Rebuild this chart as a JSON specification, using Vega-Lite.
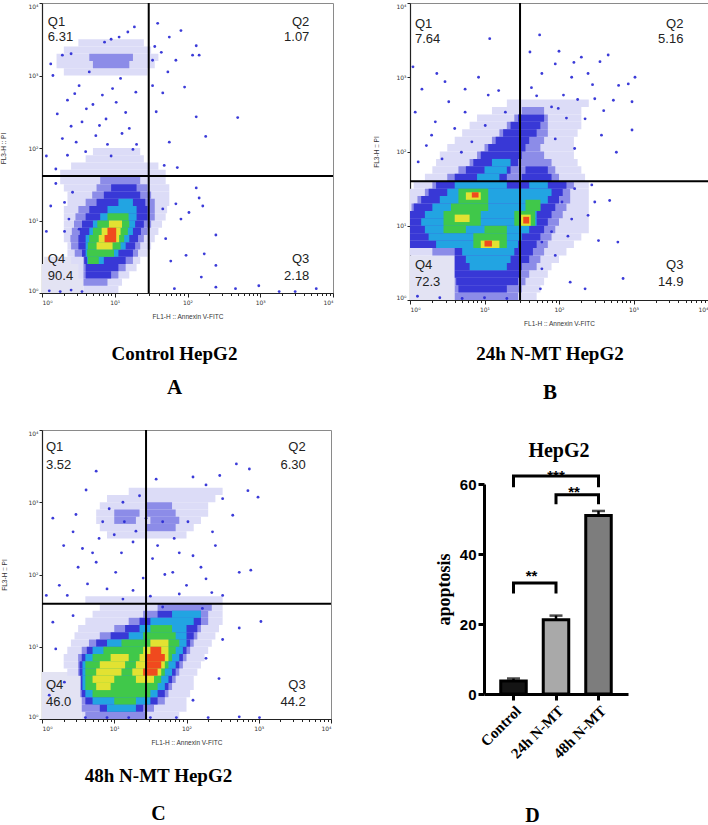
{
  "$schema": "https://vega.github.io/schema/vega-lite/v6.json",
  "background": "white",
  "padding": {"left": 0, "top": 1, "right": 0, "bottom": 0},
  "spacing": 25,
  "resolve": {"scale": {"color": "independent"}},
  "datasets": {
    "cellsA": [
      {"x":0,"x2":0.57,"y":0,"y2":0.4,"d":0},
      {"x":0.03,"x2":0.5,"y":0.4,"y2":0.5,"d":0},
      {"x":0.57,"x2":1.05,"y":0,"y2":0.1,"d":1},
      {"x":0.57,"x2":1.1,"y":0.1,"y2":0.2,"d":1},
      {"x":0.5,"x2":1.2,"y":0.2,"y2":0.3,"d":1},
      {"x":0.5,"x2":1.3,"y":0.3,"y2":0.4,"d":1},
      {"x":0.4,"x2":1.35,"y":0.4,"y2":0.5,"d":1},
      {"x":0.35,"x2":1.45,"y":0.5,"y2":0.6,"d":1},
      {"x":0.35,"x2":1.5,"y":0.6,"y2":0.7,"d":1},
      {"x":0.3,"x2":1.55,"y":0.7,"y2":0.8,"d":1},
      {"x":0.3,"x2":1.6,"y":0.8,"y2":0.9,"d":1},
      {"x":0.3,"x2":1.65,"y":0.9,"y2":1.0,"d":1},
      {"x":0.3,"x2":1.7,"y":1.0,"y2":1.1,"d":1},
      {"x":0.3,"x2":1.72,"y":1.1,"y2":1.2,"d":1},
      {"x":0.35,"x2":1.75,"y":1.2,"y2":1.4,"d":1},
      {"x":0.3,"x2":1.75,"y":1.4,"y2":1.5,"d":1},
      {"x":0.25,"x2":1.7,"y":1.5,"y2":1.7,"d":1},
      {"x":0.4,"x2":1.6,"y":1.7,"y2":1.8,"d":1},
      {"x":0.6,"x2":1.4,"y":1.8,"y2":1.9,"d":1},
      {"x":0.7,"x2":1.35,"y":1.9,"y2":2.0,"d":1},
      {"x":0.3,"x2":1.45,"y":3.0,"y2":3.1,"d":1},
      {"x":0.2,"x2":1.55,"y":3.1,"y2":3.2,"d":1},
      {"x":0.2,"x2":1.6,"y":3.2,"y2":3.3,"d":1},
      {"x":0.3,"x2":1.5,"y":3.3,"y2":3.4,"d":1},
      {"x":0.5,"x2":1.4,"y":3.4,"y2":3.5,"d":1},
      {"x":0.57,"x2":0.9,"y":0.1,"y2":0.2,"d":2},
      {"x":0.57,"x2":1.05,"y":0.2,"y2":0.3,"d":2},
      {"x":0.57,"x2":1.15,"y":0.3,"y2":0.4,"d":2},
      {"x":0.57,"x2":1.25,"y":0.4,"y2":0.5,"d":2},
      {"x":0.45,"x2":1.32,"y":0.5,"y2":0.6,"d":2},
      {"x":0.4,"x2":1.35,"y":0.6,"y2":0.7,"d":2},
      {"x":0.39,"x2":1.4,"y":0.7,"y2":0.8,"d":2},
      {"x":0.41,"x2":1.45,"y":0.8,"y2":0.9,"d":2},
      {"x":0.44,"x2":1.5,"y":0.9,"y2":1.0,"d":2},
      {"x":0.46,"x2":1.55,"y":1.0,"y2":1.1,"d":2},
      {"x":0.5,"x2":1.55,"y":1.1,"y2":1.2,"d":2},
      {"x":0.6,"x2":1.55,"y":1.2,"y2":1.3,"d":2},
      {"x":0.69,"x2":1.5,"y":1.3,"y2":1.4,"d":2},
      {"x":0.75,"x2":1.45,"y":1.4,"y2":1.5,"d":2},
      {"x":0.8,"x2":1.35,"y":1.5,"y2":1.6,"d":2},
      {"x":0.7,"x2":1.2,"y":3.1,"y2":3.2,"d":2},
      {"x":0.65,"x2":1.25,"y":3.2,"y2":3.3,"d":2},
      {"x":0.6,"x2":0.95,"y":0.2,"y2":0.3,"d":3},
      {"x":0.6,"x2":1.05,"y":0.3,"y2":0.4,"d":3},
      {"x":0.58,"x2":1.15,"y":0.4,"y2":0.5,"d":3},
      {"x":0.55,"x2":1.25,"y":0.5,"y2":0.6,"d":3},
      {"x":0.5,"x2":1.28,"y":0.6,"y2":0.7,"d":3},
      {"x":0.5,"x2":1.32,"y":0.7,"y2":0.8,"d":3},
      {"x":0.52,"x2":1.36,"y":0.8,"y2":0.9,"d":3},
      {"x":0.55,"x2":1.4,"y":0.9,"y2":1.0,"d":3},
      {"x":0.6,"x2":1.45,"y":1.0,"y2":1.1,"d":3},
      {"x":0.65,"x2":1.45,"y":1.1,"y2":1.2,"d":3},
      {"x":0.75,"x2":1.42,"y":1.2,"y2":1.3,"d":3},
      {"x":0.85,"x2":1.35,"y":1.3,"y2":1.4,"d":3},
      {"x":0.95,"x2":1.3,"y":1.4,"y2":1.5,"d":3},
      {"x":0.62,"x2":0.85,"y":0.4,"y2":0.5,"d":4},
      {"x":0.6,"x2":1.05,"y":0.5,"y2":0.6,"d":4},
      {"x":0.6,"x2":1.15,"y":0.6,"y2":0.7,"d":4},
      {"x":0.6,"x2":1.2,"y":0.7,"y2":0.8,"d":4},
      {"x":0.65,"x2":1.25,"y":0.8,"y2":0.9,"d":4},
      {"x":0.7,"x2":1.28,"y":0.9,"y2":1.0,"d":4},
      {"x":0.8,"x2":1.3,"y":1.0,"y2":1.1,"d":4},
      {"x":0.9,"x2":1.3,"y":1.1,"y2":1.2,"d":4},
      {"x":1.05,"x2":1.25,"y":1.2,"y2":1.3,"d":4},
      {"x":0.63,"x2":0.78,"y":0.4,"y2":0.5,"d":5},
      {"x":0.62,"x2":0.99,"y":0.5,"y2":0.6,"d":5},
      {"x":0.63,"x2":1.08,"y":0.6,"y2":0.7,"d":5},
      {"x":0.65,"x2":1.13,"y":0.7,"y2":0.8,"d":5},
      {"x":0.7,"x2":1.18,"y":0.8,"y2":0.9,"d":5},
      {"x":0.76,"x2":1.2,"y":0.9,"y2":1.0,"d":5},
      {"x":0.9,"x2":1.19,"y":1.0,"y2":1.1,"d":5},
      {"x":0.75,"x2":0.97,"y":0.6,"y2":0.7,"d":6},
      {"x":0.78,"x2":1.06,"y":0.7,"y2":0.8,"d":6},
      {"x":0.82,"x2":1.08,"y":0.8,"y2":0.9,"d":6},
      {"x":0.92,"x2":1.1,"y":0.9,"y2":1.0,"d":6},
      {"x":0.86,"x2":1.02,"y":0.7,"y2":0.8,"d":7},
      {"x":0.9,"x2":1.02,"y":0.8,"y2":0.9,"d":7}
    ],
    "dotsA": [
      {"x":0.12,"y":3.16},{"x":0.28,"y":3.28},{"x":0.21,"y":2.47},{"x":0.51,"y":2.86},{"x":0.35,"y":2.66},
      {"x":0.47,"y":2.08},{"x":0.74,"y":2.17},{"x":0.88,"y":2.4},{"x":1.02,"y":2.63},{"x":1.15,"y":2.49},
      {"x":1.29,"y":2.77},{"x":0.65,"y":3.05},{"x":0.97,"y":2.82},{"x":1.2,"y":2.27},{"x":0.61,"y":2.54},
      {"x":0.83,"y":2.73},{"x":0.95,"y":1.89},{"x":0.06,"y":1.89},{"x":0.19,"y":1.71},{"x":0.35,"y":1.9},
      {"x":0.28,"y":2.13},{"x":1.08,"y":2.96},{"x":0.79,"y":2.31},{"x":0.55,"y":2.36},
      {"x":1.27,"y":3.67},{"x":1.18,"y":3.6},{"x":1.06,"y":3.53},{"x":0.86,"y":3.46},
      {"x":1.59,"y":3.72},{"x":1.75,"y":3.53},{"x":1.91,"y":3.62},{"x":1.64,"y":3.32},{"x":1.84,"y":3.21},
      {"x":2.12,"y":3.41},{"x":2.16,"y":3.28},{"x":1.73,"y":3.05},{"x":1.52,"y":3.21},{"x":1.96,"y":2.84},
      {"x":2.12,"y":2.43},{"x":2.69,"y":2.42},{"x":2.25,"y":2.16},{"x":1.57,"y":2.5},{"x":1.75,"y":2.08},
      {"x":1.68,"y":1.76},{"x":1.86,"y":1.73},{"x":1.52,"y":2.86},{"x":1.66,"y":2.76},{"x":2.07,"y":3.28},
      {"x":1.55,"y":3.4},
      {"x":2.12,"y":1.45},{"x":2.16,"y":1.31},{"x":2.21,"y":1.2},{"x":1.84,"y":1.23},{"x":2.39,"y":0.8},
      {"x":2.23,"y":0.54},{"x":2.39,"y":0.38},{"x":2.19,"y":0.22},{"x":2.39,"y":0.08},{"x":2.66,"y":0.06},
      {"x":1.82,"y":0.06},{"x":2.98,"y":0.1},{"x":3.26,"y":0.02},{"x":3.48,"y":0.02},{"x":3.77,"y":0.06},
      {"x":1.98,"y":0.52},{"x":1.77,"y":0.44},{"x":1.7,"y":0.75},{"x":1.91,"y":1.02},{"x":1.66,"y":1.16},
      {"x":2.02,"y":1.11},
      {"x":0.06,"y":0.85},{"x":0.12,"y":1.2},{"x":0.31,"y":1.25},{"x":0.42,"y":1.39},{"x":0.19,"y":1.51},
      {"x":0.37,"y":1.02},{"x":0.51,"y":0.88},{"x":0.31,"y":0.85},
      {"x":0.4,"y":2.3},{"x":0.7,"y":2.6},{"x":1.1,"y":2.2},{"x":0.9,"y":2.05},{"x":1.3,"y":2.05},
      {"x":0.6,"y":1.95},{"x":1.25,"y":1.98},{"x":0.45,"y":2.75},{"x":0.95,"y":3.5},{"x":0.4,"y":3.3},
      {"x":0.15,"y":3.0},{"x":0.1,"y":0.03},{"x":0.25,"y":0.02},{"x":0.4,"y":0.04},{"x":0.55,"y":0.02}
    ],
    "qA": [
      {"q":"Q1","t":"Q1","x":0.08,"y":3.74},{"q":"Q1","t":"6.31","x":0.08,"y":3.53},
      {"q":"Q2","t":"Q2","x":3.675,"y":3.74},{"q":"Q2","t":"1.07","x":3.675,"y":3.53},
      {"q":"Q4","t":"Q4","x":0.08,"y":0.47},{"q":"Q4","t":"90.4","x":0.08,"y":0.24},
      {"q":"Q3","t":"Q3","x":3.675,"y":0.47},{"q":"Q3","t":"2.18","x":3.675,"y":0.24}
    ],
    "cellsB": [
      {"x":0,"x2":0.6,"y":0,"y2":0.6,"d":0},
      {"x":0.6,"x2":1.7,"y":0,"y2":0.1,"d":1},
      {"x":0.6,"x2":1.75,"y":0.1,"y2":0.2,"d":1},
      {"x":0.6,"x2":1.8,"y":0.2,"y2":0.3,"d":1},
      {"x":0.6,"x2":1.85,"y":0.3,"y2":0.4,"d":1},
      {"x":0.6,"x2":1.9,"y":0.4,"y2":0.5,"d":1},
      {"x":0.6,"x2":2.0,"y":0.5,"y2":0.6,"d":1},
      {"x":0,"x2":2.1,"y":0.6,"y2":0.7,"d":1},
      {"x":0,"x2":2.2,"y":0.7,"y2":0.8,"d":1},
      {"x":0,"x2":2.3,"y":0.8,"y2":0.9,"d":1},
      {"x":0,"x2":2.4,"y":0.9,"y2":1.5,"d":1},
      {"x":0.05,"x2":2.4,"y":1.5,"y2":1.6,"d":1},
      {"x":0.2,"x2":2.35,"y":1.6,"y2":1.7,"d":1},
      {"x":0.3,"x2":2.3,"y":1.7,"y2":1.8,"d":1},
      {"x":0.35,"x2":2.25,"y":1.8,"y2":1.9,"d":1},
      {"x":0.4,"x2":2.2,"y":1.9,"y2":2.0,"d":1},
      {"x":0.5,"x2":2.2,"y":2.0,"y2":2.1,"d":1},
      {"x":0.6,"x2":2.2,"y":2.1,"y2":2.2,"d":1},
      {"x":0.7,"x2":2.25,"y":2.2,"y2":2.3,"d":1},
      {"x":0.8,"x2":2.3,"y":2.3,"y2":2.4,"d":1},
      {"x":0.9,"x2":2.3,"y":2.4,"y2":2.5,"d":1},
      {"x":1.1,"x2":2.3,"y":2.5,"y2":2.6,"d":1},
      {"x":1.3,"x2":2.4,"y":2.6,"y2":2.7,"d":1},
      {"x":0.6,"x2":1.45,"y":0,"y2":0.1,"d":2},
      {"x":0.6,"x2":1.5,"y":0.1,"y2":0.2,"d":2},
      {"x":0.6,"x2":1.55,"y":0.2,"y2":0.3,"d":2},
      {"x":0.6,"x2":1.6,"y":0.3,"y2":0.4,"d":2},
      {"x":0.6,"x2":1.7,"y":0.4,"y2":0.5,"d":2},
      {"x":0.6,"x2":1.75,"y":0.5,"y2":0.6,"d":2},
      {"x":0.3,"x2":1.8,"y":0.6,"y2":0.7,"d":2},
      {"x":0,"x2":1.85,"y":0.7,"y2":0.8,"d":2},
      {"x":0,"x2":1.9,"y":0.8,"y2":0.9,"d":2},
      {"x":0,"x2":1.95,"y":0.9,"y2":1.0,"d":2},
      {"x":0,"x2":2.0,"y":1.0,"y2":1.1,"d":2},
      {"x":0,"x2":2.05,"y":1.1,"y2":1.2,"d":2},
      {"x":0.02,"x2":2.1,"y":1.2,"y2":1.3,"d":2},
      {"x":0.1,"x2":2.15,"y":1.3,"y2":1.4,"d":2},
      {"x":0.2,"x2":2.15,"y":1.4,"y2":1.5,"d":2},
      {"x":0.3,"x2":2.2,"y":1.5,"y2":1.6,"d":2},
      {"x":0.5,"x2":2.0,"y":1.6,"y2":1.7,"d":2},
      {"x":0.65,"x2":1.95,"y":1.7,"y2":1.8,"d":2},
      {"x":0.8,"x2":1.9,"y":1.8,"y2":1.9,"d":2},
      {"x":0.9,"x2":1.8,"y":1.9,"y2":2.0,"d":2},
      {"x":1.0,"x2":1.75,"y":2.0,"y2":2.1,"d":2},
      {"x":1.1,"x2":1.8,"y":2.1,"y2":2.2,"d":2},
      {"x":1.2,"x2":1.85,"y":2.2,"y2":2.3,"d":2},
      {"x":1.3,"x2":1.85,"y":2.3,"y2":2.4,"d":2},
      {"x":1.4,"x2":1.85,"y":2.4,"y2":2.5,"d":2},
      {"x":1.5,"x2":1.8,"y":2.5,"y2":2.6,"d":2},
      {"x":0.65,"x2":1.3,"y":0.1,"y2":0.2,"d":3},
      {"x":0.62,"x2":1.45,"y":0.2,"y2":0.3,"d":3},
      {"x":0.6,"x2":1.48,"y":0.3,"y2":0.4,"d":3},
      {"x":0.6,"x2":1.5,"y":0.4,"y2":0.5,"d":3},
      {"x":0.6,"x2":1.6,"y":0.5,"y2":0.6,"d":3},
      {"x":0.6,"x2":1.65,"y":0.6,"y2":0.7,"d":3},
      {"x":0,"x2":1.7,"y":0.7,"y2":0.8,"d":3},
      {"x":0,"x2":1.75,"y":0.8,"y2":0.9,"d":3},
      {"x":0,"x2":1.8,"y":0.9,"y2":1.0,"d":3},
      {"x":0,"x2":1.85,"y":1.0,"y2":1.1,"d":3},
      {"x":0,"x2":1.9,"y":1.1,"y2":1.2,"d":3},
      {"x":0.05,"x2":1.95,"y":1.2,"y2":1.3,"d":3},
      {"x":0.15,"x2":2.0,"y":1.3,"y2":1.4,"d":3},
      {"x":0.25,"x2":2.05,"y":1.4,"y2":1.5,"d":3},
      {"x":0.35,"x2":2.1,"y":1.5,"y2":1.6,"d":3},
      {"x":0.6,"x2":1.3,"y":1.6,"y2":1.7,"d":3},
      {"x":1.5,"x2":1.9,"y":1.6,"y2":1.7,"d":3},
      {"x":0.75,"x2":1.35,"y":1.7,"y2":1.8,"d":3},
      {"x":1.55,"x2":1.85,"y":1.7,"y2":1.8,"d":3},
      {"x":0.85,"x2":1.45,"y":1.8,"y2":1.9,"d":3},
      {"x":0.95,"x2":1.5,"y":1.9,"y2":2.0,"d":3},
      {"x":1.05,"x2":1.55,"y":2.0,"y2":2.1,"d":3},
      {"x":1.15,"x2":1.6,"y":2.1,"y2":2.2,"d":3},
      {"x":1.25,"x2":1.7,"y":2.2,"y2":2.3,"d":3},
      {"x":1.35,"x2":1.75,"y":2.3,"y2":2.4,"d":3},
      {"x":1.45,"x2":1.8,"y":2.4,"y2":2.5,"d":3},
      {"x":0.8,"x2":1.3,"y":0.4,"y2":0.5,"d":4},
      {"x":0.75,"x2":1.35,"y":0.5,"y2":0.6,"d":4},
      {"x":0.7,"x2":1.4,"y":0.6,"y2":0.7,"d":4},
      {"x":0.35,"x2":1.45,"y":0.7,"y2":0.8,"d":4},
      {"x":0.25,"x2":1.5,"y":0.8,"y2":0.9,"d":4},
      {"x":0.2,"x2":1.6,"y":0.9,"y2":1.0,"d":4},
      {"x":0.15,"x2":1.7,"y":1.0,"y2":1.1,"d":4},
      {"x":0.2,"x2":1.7,"y":1.1,"y2":1.2,"d":4},
      {"x":0.3,"x2":1.75,"y":1.2,"y2":1.3,"d":4},
      {"x":0.4,"x2":1.85,"y":1.3,"y2":1.4,"d":4},
      {"x":0.5,"x2":1.9,"y":1.4,"y2":1.5,"d":4},
      {"x":0.6,"x2":1.3,"y":1.5,"y2":1.6,"d":4},
      {"x":1.6,"x2":1.85,"y":1.5,"y2":1.6,"d":4},
      {"x":0.9,"x2":1.2,"y":1.6,"y2":1.7,"d":4},
      {"x":1.0,"x2":1.3,"y":1.7,"y2":1.8,"d":4},
      {"x":1.1,"x2":1.35,"y":1.8,"y2":1.9,"d":4},
      {"x":0.85,"x2":1.3,"y":0.7,"y2":0.9,"d":5},
      {"x":0.45,"x2":0.75,"y":0.9,"y2":1.0,"d":5},
      {"x":1.0,"x2":1.3,"y":0.9,"y2":1.0,"d":5},
      {"x":0.45,"x2":0.95,"y":1.0,"y2":1.2,"d":5},
      {"x":1.4,"x2":1.68,"y":1.0,"y2":1.2,"d":5},
      {"x":0.55,"x2":1.05,"y":1.2,"y2":1.3,"d":5},
      {"x":1.55,"x2":1.75,"y":1.2,"y2":1.35,"d":5},
      {"x":0.65,"x2":1.05,"y":1.3,"y2":1.5,"d":5},
      {"x":0.95,"x2":1.2,"y":0.7,"y2":0.8,"d":6},
      {"x":0.6,"x2":0.8,"y":1.05,"y2":1.15,"d":6},
      {"x":1.47,"x2":1.62,"y":1.0,"y2":1.15,"d":6},
      {"x":0.75,"x2":0.95,"y":1.35,"y2":1.45,"d":6},
      {"x":1.0,"x2":1.1,"y":0.72,"y2":0.8,"d":7},
      {"x":1.52,"x2":1.6,"y":1.03,"y2":1.12,"d":7},
      {"x":0.83,"x2":0.92,"y":1.38,"y2":1.45,"d":7}
    ],
    "dotsB": [
      {"x":1.07,"y":3.52},{"x":1.74,"y":3.57},{"x":1.61,"y":3.34},{"x":2.66,"y":3.3},{"x":1.95,"y":3.18},
      {"x":2.3,"y":3.27},{"x":2.55,"y":3.21},{"x":3.02,"y":3.0},{"x":2.93,"y":2.91},{"x":2.8,"y":2.89},
      {"x":2.39,"y":3.05},{"x":2.17,"y":3.0},{"x":1.77,"y":3.05},{"x":1.63,"y":2.86},{"x":2.06,"y":2.76},
      {"x":2.48,"y":2.71},{"x":2.73,"y":2.69},{"x":2.98,"y":2.67},{"x":1.99,"y":2.58},{"x":2.35,"y":2.44},
      {"x":2.57,"y":2.22},{"x":2.98,"y":2.29},{"x":2.77,"y":1.99},{"x":2.21,"y":2.04},{"x":1.95,"y":2.17},
      {"x":0.04,"y":3.14},{"x":0.36,"y":3.05},{"x":0.47,"y":2.94},{"x":0.16,"y":2.84},{"x":0.07,"y":2.53},
      {"x":0.74,"y":2.84},{"x":0.92,"y":3.0},{"x":0.52,"y":2.67},{"x":0.29,"y":2.22},{"x":0.74,"y":2.53},
      {"x":1.19,"y":2.82},{"x":1.05,"y":2.76},{"x":1.28,"y":2.53},{"x":0.43,"y":1.9},{"x":0.22,"y":2.08},
      {"x":0.6,"y":2.31},{"x":0.83,"y":2.13},{"x":1.01,"y":2.35},{"x":0.69,"y":1.99},{"x":0.11,"y":1.86},
      {"x":0.34,"y":2.4},
      {"x":2.68,"y":1.34},{"x":2.79,"y":0.78},{"x":2.53,"y":0.8},{"x":2.17,"y":1.09},{"x":2.39,"y":1.14},
      {"x":2.12,"y":0.86},{"x":2.86,"y":0.29},{"x":2.35,"y":0.15},{"x":2.15,"y":0.24},{"x":1.95,"y":0.6},
      {"x":1.77,"y":0.42},{"x":2.48,"y":1.32},{"x":2.21,"y":1.5},{"x":2.44,"y":1.55},{"x":1.9,"y":0.92},
      {"x":1.77,"y":0.78},{"x":2.04,"y":1.32},{"x":1.75,"y":0.15},
      {"x":1.9,"y":2.6},{"x":2.1,"y":2.45},{"x":2.25,"y":2.7},{"x":1.7,"y":2.75},{"x":2.6,"y":2.55},
      {"x":2.45,"y":2.9},{"x":2.0,"y":3.35},{"x":2.2,"y":3.2},
      {"x":0.1,"y":0.05},{"x":0.4,"y":0.03},{"x":0.7,"y":0.02},{"x":1.0,"y":0.03},{"x":1.3,"y":0.02}
    ],
    "qB": [
      {"q":"Q1","t":"Q1","x":0.067,"y":3.72},{"q":"Q1","t":"7.64","x":0.067,"y":3.52},
      {"q":"Q2","t":"Q2","x":3.67,"y":3.72},{"q":"Q2","t":"5.16","x":3.67,"y":3.52},
      {"q":"Q4","t":"Q4","x":0.067,"y":0.47},{"q":"Q4","t":"72.3","x":0.067,"y":0.24},
      {"q":"Q3","t":"Q3","x":3.67,"y":0.47},{"q":"Q3","t":"14.9","x":3.67,"y":0.24}
    ],
    "cellsC": [
      {"x":0,"x2":0.55,"y":0,"y2":0.65,"d":0},
      {"x":0.55,"x2":1.9,"y":0,"y2":0.1,"d":1},
      {"x":0.55,"x2":2.0,"y":0.1,"y2":0.3,"d":1},
      {"x":0.55,"x2":2.05,"y":0.3,"y2":0.4,"d":1},
      {"x":0.55,"x2":2.1,"y":0.4,"y2":0.6,"d":1},
      {"x":0.35,"x2":2.15,"y":0.6,"y2":0.7,"d":1},
      {"x":0.3,"x2":2.2,"y":0.7,"y2":0.8,"d":1},
      {"x":0.3,"x2":2.25,"y":0.8,"y2":0.9,"d":1},
      {"x":0.35,"x2":2.3,"y":0.9,"y2":1.0,"d":1},
      {"x":0.4,"x2":2.35,"y":1.0,"y2":1.1,"d":1},
      {"x":0.45,"x2":2.4,"y":1.1,"y2":1.2,"d":1},
      {"x":0.5,"x2":2.45,"y":1.2,"y2":1.3,"d":1},
      {"x":0.6,"x2":2.5,"y":1.3,"y2":1.4,"d":1},
      {"x":0.7,"x2":2.5,"y":1.4,"y2":1.5,"d":1},
      {"x":0.8,"x2":2.5,"y":1.5,"y2":1.6,"d":1},
      {"x":0.6,"x2":2.5,"y":1.6,"y2":1.7,"d":1},
      {"x":0.9,"x2":2.0,"y":2.5,"y2":2.6,"d":1},
      {"x":0.8,"x2":2.1,"y":2.6,"y2":2.7,"d":1},
      {"x":0.75,"x2":2.2,"y":2.7,"y2":2.8,"d":1},
      {"x":0.75,"x2":2.3,"y":2.8,"y2":2.9,"d":1},
      {"x":0.8,"x2":2.3,"y":2.9,"y2":3.0,"d":1},
      {"x":0.9,"x2":2.4,"y":3.0,"y2":3.1,"d":1},
      {"x":1.2,"x2":2.5,"y":3.1,"y2":3.2,"d":1},
      {"x":0.6,"x2":1.45,"y":0,"y2":0.1,"d":2},
      {"x":0.55,"x2":1.55,"y":0.1,"y2":0.2,"d":2},
      {"x":0.55,"x2":1.7,"y":0.2,"y2":0.3,"d":2},
      {"x":0.53,"x2":1.75,"y":0.3,"y2":0.4,"d":2},
      {"x":0.53,"x2":1.8,"y":0.4,"y2":0.5,"d":2},
      {"x":0.53,"x2":1.85,"y":0.5,"y2":0.6,"d":2},
      {"x":0.5,"x2":1.9,"y":0.6,"y2":0.7,"d":2},
      {"x":0.5,"x2":1.95,"y":0.7,"y2":0.8,"d":2},
      {"x":0.5,"x2":2.0,"y":0.8,"y2":0.9,"d":2},
      {"x":0.55,"x2":2.05,"y":0.9,"y2":1.0,"d":2},
      {"x":0.65,"x2":2.1,"y":1.0,"y2":1.1,"d":2},
      {"x":0.8,"x2":2.15,"y":1.1,"y2":1.2,"d":2},
      {"x":1.0,"x2":2.2,"y":1.2,"y2":1.3,"d":2},
      {"x":1.2,"x2":2.3,"y":1.3,"y2":1.4,"d":2},
      {"x":1.4,"x2":2.3,"y":1.4,"y2":1.5,"d":2},
      {"x":1.6,"x2":2.35,"y":1.5,"y2":1.6,"d":2},
      {"x":1.45,"x2":1.85,"y":2.6,"y2":2.7,"d":2},
      {"x":1.0,"x2":1.3,"y":2.7,"y2":2.8,"d":2},
      {"x":1.5,"x2":1.9,"y":2.7,"y2":2.8,"d":2},
      {"x":1.0,"x2":1.35,"y":2.8,"y2":2.9,"d":2},
      {"x":1.45,"x2":1.85,"y":2.8,"y2":2.9,"d":2},
      {"x":1.45,"x2":1.8,"y":2.9,"y2":3.0,"d":2},
      {"x":0.8,"x2":1.4,"y":0.1,"y2":0.2,"d":3},
      {"x":0.6,"x2":1.6,"y":0.2,"y2":0.3,"d":3},
      {"x":0.55,"x2":1.7,"y":0.3,"y2":0.4,"d":3},
      {"x":0.54,"x2":1.75,"y":0.4,"y2":0.5,"d":3},
      {"x":0.54,"x2":1.8,"y":0.5,"y2":0.6,"d":3},
      {"x":0.52,"x2":1.85,"y":0.6,"y2":0.7,"d":3},
      {"x":0.52,"x2":1.9,"y":0.7,"y2":0.8,"d":3},
      {"x":0.55,"x2":1.95,"y":0.8,"y2":0.9,"d":3},
      {"x":0.62,"x2":2.0,"y":0.9,"y2":1.0,"d":3},
      {"x":0.75,"x2":2.05,"y":1.0,"y2":1.1,"d":3},
      {"x":0.95,"x2":2.1,"y":1.1,"y2":1.2,"d":3},
      {"x":1.15,"x2":2.15,"y":1.2,"y2":1.3,"d":3},
      {"x":1.35,"x2":2.2,"y":1.3,"y2":1.4,"d":3},
      {"x":1.6,"x2":2.2,"y":1.4,"y2":1.5,"d":3},
      {"x":0.9,"x2":1.3,"y":0.1,"y2":0.2,"d":4},
      {"x":0.7,"x2":1.5,"y":0.2,"y2":0.3,"d":4},
      {"x":0.6,"x2":1.6,"y":0.3,"y2":0.4,"d":4},
      {"x":0.56,"x2":1.7,"y":0.4,"y2":0.5,"d":4},
      {"x":0.56,"x2":1.75,"y":0.5,"y2":0.6,"d":4},
      {"x":0.56,"x2":1.8,"y":0.6,"y2":0.7,"d":4},
      {"x":0.56,"x2":1.85,"y":0.7,"y2":0.8,"d":4},
      {"x":0.6,"x2":1.9,"y":0.8,"y2":0.9,"d":4},
      {"x":0.7,"x2":1.95,"y":0.9,"y2":1.0,"d":4},
      {"x":0.9,"x2":2.0,"y":1.0,"y2":1.1,"d":4},
      {"x":1.2,"x2":2.0,"y":1.1,"y2":1.2,"d":4},
      {"x":1.35,"x2":2.0,"y":1.2,"y2":1.3,"d":4},
      {"x":1.5,"x2":2.1,"y":1.3,"y2":1.4,"d":4},
      {"x":1.8,"x2":2.2,"y":1.4,"y2":1.5,"d":4},
      {"x":1.0,"x2":1.3,"y":0.2,"y2":0.3,"d":5},
      {"x":0.7,"x2":1.5,"y":0.3,"y2":0.4,"d":5},
      {"x":0.6,"x2":1.6,"y":0.4,"y2":0.5,"d":5},
      {"x":0.6,"x2":1.65,"y":0.5,"y2":0.6,"d":5},
      {"x":0.6,"x2":1.7,"y":0.6,"y2":0.7,"d":5},
      {"x":0.6,"x2":1.75,"y":0.7,"y2":0.8,"d":5},
      {"x":0.7,"x2":1.8,"y":0.8,"y2":0.9,"d":5},
      {"x":0.85,"x2":1.85,"y":0.9,"y2":1.0,"d":5},
      {"x":1.1,"x2":1.9,"y":1.0,"y2":1.1,"d":5},
      {"x":1.4,"x2":1.85,"y":1.1,"y2":1.2,"d":5},
      {"x":1.5,"x2":1.8,"y":1.2,"y2":1.3,"d":5},
      {"x":0.75,"x2":0.95,"y":0.4,"y2":0.5,"d":6},
      {"x":0.7,"x2":1.0,"y":0.5,"y2":0.6,"d":6},
      {"x":1.3,"x2":1.55,"y":0.5,"y2":0.6,"d":6},
      {"x":0.75,"x2":1.1,"y":0.6,"y2":0.7,"d":6},
      {"x":1.25,"x2":1.65,"y":0.6,"y2":0.7,"d":6},
      {"x":0.8,"x2":1.15,"y":0.7,"y2":0.8,"d":6},
      {"x":1.3,"x2":1.7,"y":0.7,"y2":0.8,"d":6},
      {"x":0.95,"x2":1.2,"y":0.8,"y2":0.9,"d":6},
      {"x":1.35,"x2":1.75,"y":0.8,"y2":0.9,"d":6},
      {"x":1.4,"x2":1.75,"y":0.9,"y2":1.0,"d":6},
      {"x":1.5,"x2":1.75,"y":1.0,"y2":1.1,"d":6},
      {"x":1.4,"x2":1.6,"y":0.6,"y2":0.7,"d":7},
      {"x":1.45,"x2":1.65,"y":0.7,"y2":0.8,"d":7},
      {"x":1.45,"x2":1.7,"y":0.8,"y2":0.9,"d":7},
      {"x":1.5,"x2":1.65,"y":0.9,"y2":1.0,"d":7}
    ],
    "dotsC": [
      {"x":0.61,"y":3.17},{"x":0.43,"y":2.59},{"x":0.24,"y":1.85},{"x":0.06,"y":1.71},{"x":0.56,"y":2.36},
      {"x":0.84,"y":2.73},{"x":0.75,"y":2.17},{"x":1.02,"y":2.03},{"x":1.26,"y":2.45},{"x":1.53,"y":2.22},
      {"x":1.81,"y":2.03},{"x":2.09,"y":2.26},{"x":2.27,"y":1.94},{"x":2.5,"y":1.71},{"x":2.73,"y":2.03},
      {"x":2.89,"y":2.06},{"x":2.36,"y":2.59},{"x":2.64,"y":2.82},{"x":2.5,"y":3.05},{"x":2.27,"y":3.24},
      {"x":2.09,"y":3.35},{"x":2.46,"y":3.37},{"x":2.69,"y":3.53},{"x":2.87,"y":3.46},{"x":2.99,"y":3.07},
      {"x":2.85,"y":3.16},{"x":2.02,"y":2.73},{"x":1.83,"y":2.5},{"x":1.67,"y":2.73},{"x":1.44,"y":2.78},
      {"x":1.12,"y":3.0},{"x":0.93,"y":2.91},{"x":0.79,"y":2.5},{"x":1.14,"y":2.73},{"x":1.35,"y":3.09},
      {"x":1.58,"y":3.32},{"x":0.75,"y":3.43},{"x":0.47,"y":2.83},{"x":0.15,"y":2.78},{"x":0.35,"y":1.71},
      {"x":0.63,"y":1.87},{"x":1.26,"y":1.78},{"x":1.9,"y":1.73},{"x":3.03,"y":1.35},{"x":2.73,"y":1.26},
      {"x":2.5,"y":1.1},{"x":2.27,"y":0.84},{"x":2.45,"y":0.56},{"x":2.09,"y":0.26},{"x":2.73,"y":0.03},
      {"x":3.01,"y":0.02},{"x":1.86,"y":0.02},{"x":0.19,"y":0.97},{"x":0.15,"y":1.34},{"x":0.43,"y":1.43},
      {"x":0.31,"y":0.51},{"x":0.1,"y":0.33},{"x":1.12,"y":1.66},{"x":2.22,"y":1.53},{"x":1.67,"y":1.55},
      {"x":0.9,"y":1.8},{"x":1.4,"y":1.95},{"x":1.7,"y":2.0},{"x":2.0,"y":1.85},{"x":1.1,"y":2.3},
      {"x":1.6,"y":2.4},{"x":2.2,"y":2.1},{"x":0.5,"y":2.1},{"x":1.3,"y":2.6},{"x":1.9,"y":2.3},
      {"x":2.4,"y":2.4},{"x":0.7,"y":2.3},{"x":1.0,"y":2.55},{"x":1.5,"y":1.7},{"x":2.35,"y":1.75},
      {"x":0.3,"y":2.4},{"x":0.6,"y":0.02},{"x":0.9,"y":0.02},{"x":1.2,"y":0.02},{"x":1.5,"y":0.02},
      {"x":2.3,"y":0.02}
    ],
    "qC": [
      {"q":"Q1","t":"Q1","x":0.055,"y":3.76},{"q":"Q1","t":"3.52","x":0.055,"y":3.51},
      {"q":"Q2","t":"Q2","x":3.65,"y":3.76},{"q":"Q2","t":"6.30","x":3.65,"y":3.51},
      {"q":"Q4","t":"Q4","x":0.055,"y":0.47},{"q":"Q4","t":"46.0","x":0.055,"y":0.235},
      {"q":"Q3","t":"Q3","x":3.65,"y":0.47},{"q":"Q3","t":"44.2","x":3.65,"y":0.235}
    ]
  },
  "vconcat": [
    {
      "spacing": 38,
      "resolve": {"scale": {"color": "independent"}},
      "hconcat": [
        {
          "width": 291,
          "height": 290,
          "view": {"stroke": "#8a8a8a"},
          "title": {"text": "Control HepG2", "subtitle": "A", "orient": "bottom", "anchor": "middle", "offset": 25, "dx": -13, "font": "Liberation Serif", "fontSize": 19, "fontWeight": "bold", "color": "black", "subtitleFont": "Liberation Serif", "subtitleFontSize": 21, "subtitleFontWeight": "bold", "subtitleColor": "black", "subtitlePadding": 13},
          "resolve": {"axis": {"x": "independent"}},
          "layer": [
            {
              "data": {"name": "cellsA"},
              "mark": {"type": "rect"},
              "encoding": {
                "x": {"field": "x", "type": "quantitative", "scale": {"domain": [0, 4], "nice": false},
                  "axis": {"orient": "bottom", "title": "FL1-H :: Annexin V-FITC", "values": [0,1,2,3,4],
                    "labelExpr": "['10⁰','10¹','10²','10³','10⁴'][datum.value]",
                    "tickSize": 4, "labelFont": "DejaVu Sans", "labelFontSize": 6, "labelColor": "#333", "labelPadding": 2, "labelOverlap": false, "labelFlush": true,
                    "titleFont": "Liberation Sans", "titleFontSize": 6.5, "titleFontWeight": "normal", "titleColor": "#333", "titlePadding": 8,
                    "domainColor": "#222", "domainWidth": 1.2, "tickColor": "#222", "tickWidth": 1, "grid": false}},
                "x2": {"field": "x2"},
                "y": {"field": "y", "type": "quantitative", "scale": {"domain": [0, 4], "nice": false},
                  "axis": {"title": "FL3-H :: PI", "values": [0,1,2,3,4],
                    "labelExpr": "['10⁰','10¹','10²','10³','10⁴'][datum.value]",
                    "tickSize": 3, "labelFont": "DejaVu Sans", "labelFontSize": 6, "labelColor": "#333", "labelPadding": 1, "labelOverlap": false, "labelFlush": true,
                    "titleFont": "Liberation Sans", "titleFontSize": 6.5, "titleFontWeight": "normal", "titleColor": "#333", "titlePadding": 21,
                    "domainColor": "#222", "domainWidth": 1.2, "tickColor": "#222", "tickWidth": 1, "grid": false}},
                "y2": {"field": "y2"},
                "color": {"field": "d", "type": "ordinal", "scale": {"domain": [0,1,2,3,4,5,6,7], "range": ["#e3e3f3","#dcdcf7","#8c8ce8","#3838d6","#22a4e2","#40c84a","#e2e232","#f04a1e"]}, "legend": null}
              }
            },
            {
              "data": {"name": "dotsA"},
              "mark": {"type": "circle", "size": 8, "opacity": 0.9, "color": "#2626d4"},
              "encoding": {
                "x": {"field": "x", "type": "quantitative",
                  "axis": {"orient": "bottom", "title": null, "labels": false, "domain": false, "tickSize": 2.5, "tickColor": "#222", "tickWidth": 1, "grid": false,
                    "values": [0.301,0.477,0.602,0.699,0.778,0.845,0.903,0.954,1.301,1.477,1.602,1.699,1.778,1.845,1.903,1.954,2.301,2.477,2.602,2.699,2.778,2.845,2.903,2.954,3.301,3.477,3.602,3.699,3.778,3.845,3.903,3.954]}},
                "y": {"field": "y", "type": "quantitative"}}
            },
            {
              "data": {"values": [{"gate": 1.467}]},
              "mark": {"type": "rule", "color": "black", "strokeWidth": 2},
              "encoding": {"x": {"field": "gate", "type": "quantitative", "axis": null}}
            },
            {
              "data": {"values": [{"gate": 1.614}]},
              "mark": {"type": "rule", "color": "black", "strokeWidth": 2},
              "encoding": {"y": {"field": "gate", "type": "quantitative"}}
            },
            {
              "data": {"name": "qA"},
              "transform": [{"filter": "datum.q == 'Q1' || datum.q == 'Q4'"}],
              "mark": {"type": "text", "align": "left", "baseline": "middle", "font": "Liberation Sans", "fontSize": 13, "color": "#222"},
              "encoding": {"x": {"field": "x", "type": "quantitative", "axis": null}, "y": {"field": "y", "type": "quantitative"}, "text": {"field": "t"}}
            },
            {
              "data": {"name": "qA"},
              "transform": [{"filter": "datum.q == 'Q2' || datum.q == 'Q3'"}],
              "mark": {"type": "text", "align": "right", "baseline": "middle", "font": "Liberation Sans", "fontSize": 13, "color": "#222"},
              "encoding": {"x": {"field": "x", "type": "quantitative", "axis": null}, "y": {"field": "y", "type": "quantitative"}, "text": {"field": "t"}}
            }
          ]
        },
        {
          "width": 298,
          "height": 297,
          "view": {"stroke": "#8a8a8a"},
          "title": {"text": "24h N-MT HepG2", "subtitle": "B", "orient": "bottom", "anchor": "middle", "offset": 18, "dx": -9, "font": "Liberation Serif", "fontSize": 19, "fontWeight": "bold", "color": "black", "subtitleFont": "Liberation Serif", "subtitleFontSize": 21, "subtitleFontWeight": "bold", "subtitleColor": "black", "subtitlePadding": 18},
          "resolve": {"axis": {"x": "independent"}},
          "layer": [
            {
              "data": {"name": "cellsB"},
              "mark": {"type": "rect"},
              "encoding": {
                "x": {"field": "x", "type": "quantitative", "scale": {"domain": [0, 4], "nice": false},
                  "axis": {"orient": "bottom", "title": "FL1-H :: Annexin V-FITC", "values": [0,1,2,3,4],
                    "labelExpr": "['10⁰','10¹','10²','10³','10⁴'][datum.value]",
                    "tickSize": 4, "labelFont": "DejaVu Sans", "labelFontSize": 6, "labelColor": "#333", "labelPadding": 2, "labelOverlap": false, "labelFlush": true,
                    "titleFont": "Liberation Sans", "titleFontSize": 6.5, "titleFontWeight": "normal", "titleColor": "#333", "titlePadding": 8,
                    "domainColor": "#222", "domainWidth": 1.2, "tickColor": "#222", "tickWidth": 1, "grid": false}},
                "x2": {"field": "x2"},
                "y": {"field": "y", "type": "quantitative", "scale": {"domain": [0, 4], "nice": false},
                  "axis": {"title": "FL3-H :: PI", "values": [0,1,2,3,4],
                    "labelExpr": "['10⁰','10¹','10²','10³','10⁴'][datum.value]",
                    "tickSize": 3, "labelFont": "DejaVu Sans", "labelFontSize": 6, "labelColor": "#333", "labelPadding": 1, "labelOverlap": false, "labelFlush": true,
                    "titleFont": "Liberation Sans", "titleFontSize": 6.5, "titleFontWeight": "normal", "titleColor": "#333", "titlePadding": 16,
                    "domainColor": "#222", "domainWidth": 1.2, "tickColor": "#222", "tickWidth": 1, "grid": false}},
                "y2": {"field": "y2"},
                "color": {"field": "d", "type": "ordinal", "scale": {"domain": [0,1,2,3,4,5,6,7], "range": ["#e3e3f3","#dcdcf7","#8c8ce8","#3838d6","#22a4e2","#40c84a","#e2e232","#f04a1e"]}, "legend": null}
              }
            },
            {
              "data": {"name": "dotsB"},
              "mark": {"type": "circle", "size": 8, "opacity": 0.9, "color": "#2626d4"},
              "encoding": {
                "x": {"field": "x", "type": "quantitative",
                  "axis": {"orient": "bottom", "title": null, "labels": false, "domain": false, "tickSize": 2.5, "tickColor": "#222", "tickWidth": 1, "grid": false,
                    "values": [0.301,0.477,0.602,0.699,0.778,0.845,0.903,0.954,1.301,1.477,1.602,1.699,1.778,1.845,1.903,1.954,2.301,2.477,2.602,2.699,2.778,2.845,2.903,2.954,3.301,3.477,3.602,3.699,3.778,3.845,3.903,3.954]}},
                "y": {"field": "y", "type": "quantitative"}}
            },
            {
              "data": {"values": [{"gate": 1.477}]},
              "mark": {"type": "rule", "color": "black", "strokeWidth": 2},
              "encoding": {"x": {"field": "gate", "type": "quantitative", "axis": null}}
            },
            {
              "data": {"values": [{"gate": 1.6}]},
              "mark": {"type": "rule", "color": "black", "strokeWidth": 2},
              "encoding": {"y": {"field": "gate", "type": "quantitative"}}
            },
            {
              "data": {"name": "qB"},
              "transform": [{"filter": "datum.q == 'Q1' || datum.q == 'Q4'"}],
              "mark": {"type": "text", "align": "left", "baseline": "middle", "font": "Liberation Sans", "fontSize": 13, "color": "#222"},
              "encoding": {"x": {"field": "x", "type": "quantitative", "axis": null}, "y": {"field": "y", "type": "quantitative"}, "text": {"field": "t"}}
            },
            {
              "data": {"name": "qB"},
              "transform": [{"filter": "datum.q == 'Q2' || datum.q == 'Q3'"}],
              "mark": {"type": "text", "align": "right", "baseline": "middle", "font": "Liberation Sans", "fontSize": 13, "color": "#222"},
              "encoding": {"x": {"field": "x", "type": "quantitative", "axis": null}, "y": {"field": "y", "type": "quantitative"}, "text": {"field": "t"}}
            }
          ]
        }
      ]
    },
    {
      "spacing": 102,
      "resolve": {"scale": {"color": "independent"}},
      "hconcat": [
        {
          "width": 289,
          "height": 289,
          "view": {"stroke": "#8a8a8a"},
          "title": {"text": "48h N-MT HepG2", "subtitle": "C", "orient": "bottom", "anchor": "middle", "offset": 21, "dx": -28, "font": "Liberation Serif", "fontSize": 19, "fontWeight": "bold", "color": "black", "subtitleFont": "Liberation Serif", "subtitleFontSize": 20, "subtitleFontWeight": "bold", "subtitleColor": "black", "subtitlePadding": 18},
          "resolve": {"axis": {"x": "independent"}},
          "layer": [
            {
              "data": {"name": "cellsC"},
              "mark": {"type": "rect"},
              "encoding": {
                "x": {"field": "x", "type": "quantitative", "scale": {"domain": [0, 4], "nice": false},
                  "axis": {"orient": "bottom", "title": "FL1-H :: Annexin V-FITC", "values": [0,1,2,3,4],
                    "labelExpr": "['10⁰','10¹','10²','10³','10⁴'][datum.value]",
                    "tickSize": 4, "labelFont": "DejaVu Sans", "labelFontSize": 6, "labelColor": "#333", "labelPadding": 2, "labelOverlap": false, "labelFlush": true,
                    "titleFont": "Liberation Sans", "titleFontSize": 6.5, "titleFontWeight": "normal", "titleColor": "#333", "titlePadding": 8,
                    "domainColor": "#222", "domainWidth": 1.2, "tickColor": "#222", "tickWidth": 1, "grid": false}},
                "x2": {"field": "x2"},
                "y": {"field": "y", "type": "quantitative", "scale": {"domain": [0, 4], "nice": false},
                  "axis": {"title": "FL3-H :: PI", "values": [0,1,2,3,4],
                    "labelExpr": "['10⁰','10¹','10²','10³','10⁴'][datum.value]",
                    "tickSize": 3, "labelFont": "DejaVu Sans", "labelFontSize": 6, "labelColor": "#333", "labelPadding": 1, "labelOverlap": false, "labelFlush": true,
                    "titleFont": "Liberation Sans", "titleFontSize": 6.5, "titleFontWeight": "normal", "titleColor": "#333", "titlePadding": 20,
                    "domainColor": "#222", "domainWidth": 1.2, "tickColor": "#222", "tickWidth": 1, "grid": false}},
                "y2": {"field": "y2"},
                "color": {"field": "d", "type": "ordinal", "scale": {"domain": [0,1,2,3,4,5,6,7], "range": ["#e3e3f3","#dcdcf7","#8c8ce8","#3838d6","#22a4e2","#40c84a","#e2e232","#f04a1e"]}, "legend": null}
              }
            },
            {
              "data": {"name": "dotsC"},
              "mark": {"type": "circle", "size": 8, "opacity": 0.9, "color": "#2626d4"},
              "encoding": {
                "x": {"field": "x", "type": "quantitative",
                  "axis": {"orient": "bottom", "title": null, "labels": false, "domain": false, "tickSize": 2.5, "tickColor": "#222", "tickWidth": 1, "grid": false,
                    "values": [0.301,0.477,0.602,0.699,0.778,0.845,0.903,0.954,1.301,1.477,1.602,1.699,1.778,1.845,1.903,1.954,2.301,2.477,2.602,2.699,2.778,2.845,2.903,2.954,3.301,3.477,3.602,3.699,3.778,3.845,3.903,3.954]}},
                "y": {"field": "y", "type": "quantitative"}}
            },
            {
              "data": {"values": [{"gate": 1.44}]},
              "mark": {"type": "rule", "color": "black", "strokeWidth": 2},
              "encoding": {"x": {"field": "gate", "type": "quantitative", "axis": null}}
            },
            {
              "data": {"values": [{"gate": 1.596}]},
              "mark": {"type": "rule", "color": "black", "strokeWidth": 2},
              "encoding": {"y": {"field": "gate", "type": "quantitative"}}
            },
            {
              "data": {"name": "qC"},
              "transform": [{"filter": "datum.q == 'Q1' || datum.q == 'Q4'"}],
              "mark": {"type": "text", "align": "left", "baseline": "middle", "font": "Liberation Sans", "fontSize": 13, "color": "#222"},
              "encoding": {"x": {"field": "x", "type": "quantitative", "axis": null}, "y": {"field": "y", "type": "quantitative"}, "text": {"field": "t"}}
            },
            {
              "data": {"name": "qC"},
              "transform": [{"filter": "datum.q == 'Q2' || datum.q == 'Q3'"}],
              "mark": {"type": "text", "align": "right", "baseline": "middle", "font": "Liberation Sans", "fontSize": 13, "color": "#222"},
              "encoding": {"x": {"field": "x", "type": "quantitative", "axis": null}, "y": {"field": "y", "type": "quantitative"}, "text": {"field": "t"}}
            }
          ]
        },
        {
          "width": 144,
          "height": 264,
          "title": {"text": "HepG2", "font": "Liberation Serif", "fontSize": 20, "fontWeight": "bold", "color": "black", "offset": -31, "dx": 3, "anchor": "middle"},
          "data": {"values": [
            {"g": "Control", "v": 3.7, "hi": 4.4},
            {"g": "24h N-MT", "v": 21.2, "hi": 22.4},
            {"g": "48h N-MT", "v": 51.0, "hi": 52.3}
          ]},
          "layer": [
            {
              "mark": {"type": "bar", "stroke": "black", "strokeWidth": 3},
              "encoding": {
                "x": {"field": "g", "type": "nominal", "scale": {"domain": ["Control", "24h N-MT", "48h N-MT"], "paddingInner": 0.4, "paddingOuter": 0.394},
                  "axis": {"title": "D", "titleFont": "Liberation Serif", "titleFontSize": 20, "titleFontWeight": "bold", "titleColor": "black", "titleX": 48, "titleY": 121, "titleBaseline": "middle",
                    "labelAngle": -45, "labelFont": "Liberation Serif", "labelFontSize": 15, "labelFontWeight": "bold", "labelColor": "black", "labelPadding": 3,
                    "tickSize": 6, "tickWidth": 3, "tickColor": "black", "domainWidth": 3, "domainColor": "black"}},
                "y": {"field": "v", "type": "quantitative", "scale": {"domain": [0, 60], "range": [264, 54], "nice": false},
                  "axis": {"title": "apoptosis", "values": [0, 20, 40, 60], "titleFont": "Liberation Serif", "titleFontSize": 18, "titleFontWeight": "bold", "titleColor": "black", "titlePadding": 6,
                    "labelFont": "Liberation Sans", "labelFontSize": 15, "labelFontWeight": "bold", "labelColor": "black", "labelPadding": 2,
                    "tickSize": 6, "tickWidth": 3, "tickColor": "black", "domainWidth": 3, "domainColor": "black", "grid": false}},
                "color": {"field": "g", "type": "nominal", "scale": {"domain": ["Control", "24h N-MT", "48h N-MT"], "range": ["#141414", "#a9a9a9", "#7d7d7d"]}, "legend": null}
              }
            },
            {
              "mark": {"type": "rule", "color": "black", "strokeWidth": 2.5},
              "encoding": {"x": {"field": "g", "type": "nominal"}, "y": {"field": "v", "type": "quantitative"}, "y2": {"field": "hi"}}
            },
            {
              "mark": {"type": "tick", "color": "black", "thickness": 2.5, "size": 13},
              "encoding": {"x": {"field": "g", "type": "nominal"}, "y": {"field": "hi", "type": "quantitative"}}
            },
            {
              "data": {"values": [
                {"b": 1, "o": 1, "g": "Control", "v": 28.7},
                {"b": 1, "o": 2, "g": "Control", "v": 31.7},
                {"b": 1, "o": 3, "g": "24h N-MT", "v": 31.7},
                {"b": 1, "o": 4, "g": "24h N-MT", "v": 28.7},
                {"b": 2, "o": 1, "g": "24h N-MT", "v": 54.2},
                {"b": 2, "o": 2, "g": "24h N-MT", "v": 56.9},
                {"b": 2, "o": 3, "g": "48h N-MT", "v": 56.9},
                {"b": 2, "o": 4, "g": "48h N-MT", "v": 54.2},
                {"b": 3, "o": 1, "g": "Control", "v": 59.1},
                {"b": 3, "o": 2, "g": "Control", "v": 62.3},
                {"b": 3, "o": 3, "g": "48h N-MT", "v": 62.3},
                {"b": 3, "o": 4, "g": "48h N-MT", "v": 59.1}
              ]},
              "mark": {"type": "line", "color": "black", "strokeWidth": 3, "strokeJoin": "miter", "strokeCap": "butt"},
              "encoding": {"x": {"field": "g", "type": "nominal"}, "y": {"field": "v", "type": "quantitative"}, "detail": {"field": "b"}, "order": {"field": "o"}}
            },
            {
              "data": {"values": [
                {"b": 1, "g": "Control", "v": 32.2, "t": "**"},
                {"b": 2, "g": "24h N-MT", "v": 56.2, "t": "**"},
                {"b": 3, "g": "24h N-MT", "v": 60.8, "t": "***"}
              ]},
              "transform": [{"filter": "datum.b < 3"}],
              "mark": {"type": "text", "dx": 18, "baseline": "alphabetic", "font": "Liberation Sans", "fontSize": 15, "fontWeight": "bold", "color": "black"},
              "encoding": {"x": {"field": "g", "type": "nominal"}, "y": {"field": "v", "type": "quantitative"}, "text": {"field": "t"}}
            },
            {
              "data": {"values": [
                {"b": 1, "g": "Control", "v": 32.2, "t": "**"},
                {"b": 2, "g": "24h N-MT", "v": 56.2, "t": "**"},
                {"b": 3, "g": "24h N-MT", "v": 60.8, "t": "***"}
              ]},
              "transform": [{"filter": "datum.b == 3"}],
              "mark": {"type": "text", "baseline": "alphabetic", "font": "Liberation Sans", "fontSize": 15, "fontWeight": "bold", "color": "black"},
              "encoding": {"x": {"field": "g", "type": "nominal"}, "y": {"field": "v", "type": "quantitative"}, "text": {"field": "t"}}
            }
          ]
        }
      ]
    }
  ],
  "config": {"view": {"stroke": null}, "font": "Liberation Sans"}
}
